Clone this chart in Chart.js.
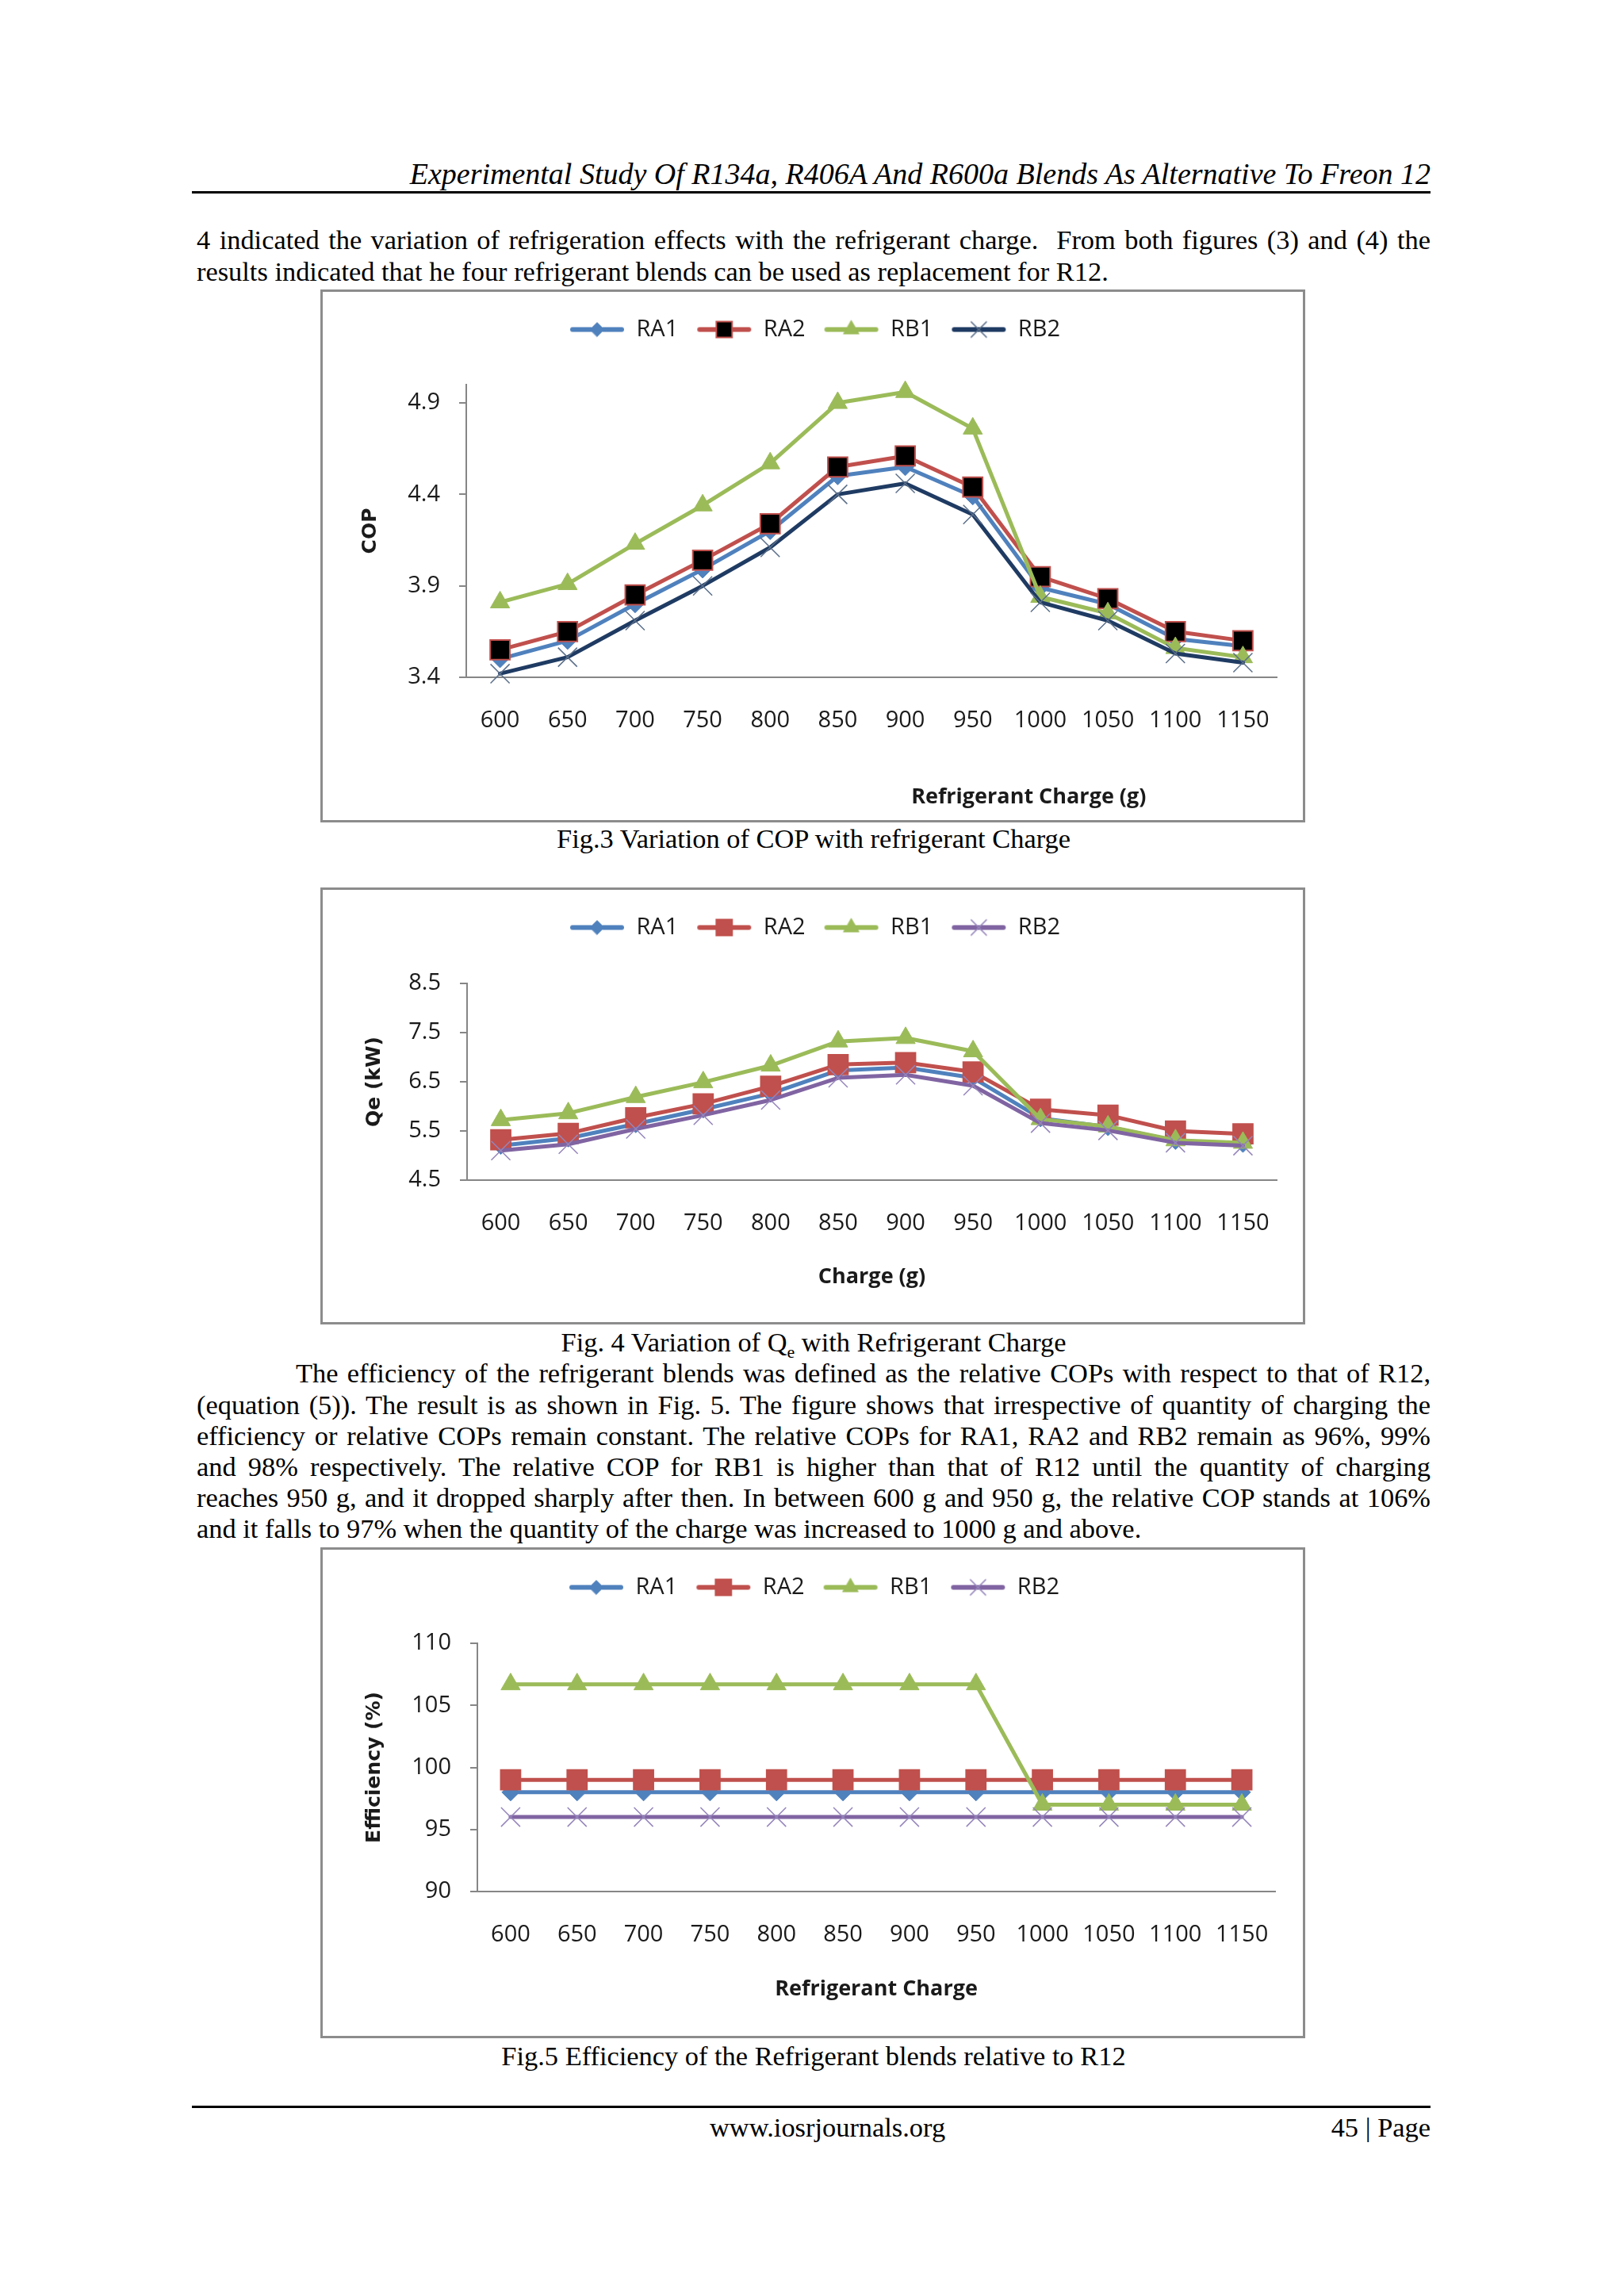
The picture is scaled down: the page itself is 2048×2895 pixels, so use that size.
<!DOCTYPE html>
<html>
<head>
<meta charset="utf-8">
<title>Experimental Study Of R134a, R406A And R600a Blends As Alternative To Freon 12</title>
<script src="https://cdn.jsdelivr.net/npm/chart.js@4.4.1/dist/chart.umd.min.js"></script>
<style>
  html, body { margin: 0; padding: 0; background: #fff; }
  .page { position: relative; width: 2048px; height: 2895px; overflow: hidden;
          font-family: "Liberation Serif", "Times New Roman", serif; color: #000; }
  .abs { position: absolute; }
  .header { right: 244px; top: 197px; font-size: 38px; font-style: italic; line-height: 44px; white-space: nowrap; }
  .rule { left: 242px; width: 1562px; height: 3px; background: #000; }
  .line { left: 248px; width: 1556px; font-size: 34.4px; line-height: 40px; text-align: justify; text-align-last: justify; }
  .line.last { text-align-last: left; }
  .line.indent { left: 373px; width: 1431px; }
  .caption { left: 248px; width: 1556px; text-align: center; font-size: 34.4px; line-height: 40px; }
  .footer { font-size: 34.4px; line-height: 40px; }
  .box { left: 404px; width: 1242px; border: 3px solid #8c8c8c; box-sizing: border-box; background: #fff; }
  .cv { position: absolute; left: 0; top: 0; right: 0; bottom: 0; }
</style>
</head>
<body>
<div class="page">
  <div class="abs header">Experimental Study Of R134a, R406A And R600a Blends As Alternative To Freon 12</div>
  <div class="abs rule" style="top:241px"></div>

  <div class="abs line" style="top:282px">4 indicated the variation of refrigeration effects with the refrigerant charge.&nbsp; From both figures (3) and (4) the</div>
  <div class="abs line last" style="top:322px">results indicated that he four refrigerant blends can be used as replacement for R12.</div>

  <div class="abs box" style="top:365px;height:672px"><div class="cv"><canvas id="copChart"></canvas></div></div>
  <div class="abs caption" style="top:1037px">Fig.3 Variation of COP with refrigerant Charge</div>

  <div class="abs box" style="top:1119px;height:551px"><div class="cv"><canvas id="qeChart"></canvas></div></div>
  <div class="abs caption" style="top:1672px">Fig. 4 Variation of Q<sub style="font-size:22px">e</sub> with Refrigerant Charge</div>

  <div class="abs line indent" style="top:1711px">The efficiency of the refrigerant blends was defined as the relative COPs with respect to that of R12,</div>
  <div class="abs line" style="top:1751px">(equation (5)). The result is as shown in Fig. 5. The figure shows that irrespective of quantity of charging the</div>
  <div class="abs line" style="top:1790px">efficiency or relative COPs remain constant. The relative COPs for RA1, RA2 and RB2 remain as 96%, 99%</div>
  <div class="abs line" style="top:1829px">and 98% respectively. The relative COP for RB1 is higher than that of R12 until the quantity of charging</div>
  <div class="abs line" style="top:1868px">reaches 950 g, and it dropped sharply after then. In between 600 g and 950 g, the relative COP stands at 106%</div>
  <div class="abs line last" style="top:1907px">and it falls to 97% when the quantity of the charge was increased to 1000 g and above.</div>

  <div class="abs box" style="top:1951px;height:619px"><div class="cv"><canvas id="effChart"></canvas></div></div>
  <div class="abs caption" style="top:2572px">Fig.5 Efficiency of the Refrigerant blends relative to R12</div>

  <div class="abs rule" style="top:2655px"></div>
  <div class="abs footer" style="top:2662px;left:895px">www.iosrjournals.org</div>
  <div class="abs footer" style="top:2662px;right:244px">45 | Page</div>
</div>

<script>
// refrigerant charge (g)
const charges = ['600', '650', '700', '750', '800', '850', '900', '950', '1000', '1050', '1100', '1150'];
const seriesNames = ['RA1', 'RA2', 'RB1', 'RB2'];

// Fig.3 COP
const copRA1 = [3.50, 3.60, 3.80, 3.99, 4.20, 4.50, 4.55, 4.39, 3.89, 3.80, 3.61, 3.57];
const copRA2 = [3.55, 3.65, 3.85, 4.04, 4.24, 4.55, 4.61, 4.44, 3.95, 3.83, 3.65, 3.60];
const copRB1 = [3.81, 3.91, 4.13, 4.34, 4.57, 4.90, 4.96, 4.76, 3.84, 3.75, 3.56, 3.51];
const copRB2 = [3.42, 3.51, 3.71, 3.90, 4.11, 4.40, 4.46, 4.29, 3.81, 3.71, 3.53, 3.48];
const copTicks = [3.4, 3.9, 4.4, 4.9];

// Fig.4 Qe (kW)
const qeRA1 = [5.20, 5.35, 5.64, 5.94, 6.26, 6.73, 6.79, 6.58, 5.76, 5.58, 5.30, 5.24];
const qeRA2 = [5.32, 5.45, 5.77, 6.05, 6.41, 6.85, 6.89, 6.70, 5.94, 5.82, 5.50, 5.44];
const qeRB1 = [5.72, 5.86, 6.19, 6.49, 6.83, 7.32, 7.39, 7.12, 5.74, 5.59, 5.31, 5.26];
const qeRB2 = [5.10, 5.23, 5.54, 5.82, 6.13, 6.58, 6.64, 6.42, 5.66, 5.51, 5.26, 5.20];
const qeTicks = [4.5, 5.5, 6.5, 7.5, 8.5];

// Fig.5 efficiency (%)
const effRA1 = [98, 98, 98, 98, 98, 98, 98, 98, 98, 98, 98, 98];
const effRA2 = [99, 99, 99, 99, 99, 99, 99, 99, 99, 99, 99, 99];
const effRB1 = [106.7, 106.7, 106.7, 106.7, 106.7, 106.7, 106.7, 106.7, 97, 97, 97, 97];
const effRB2 = [96, 96, 96, 96, 96, 96, 96, 96, 96, 96, 96, 96];
const effTicks = [90, 95, 100, 105, 110];

const BLUE = '#4F81BD', RED = '#C0504D', GREEN = '#9BBB59', PURPLE = '#8064A2', NAVY = '#1F3B63';
const TEXT = '#1a1a1a', AXIS = '#868686';

function seriesStyles(ra2Fill, rb2Line, rb2Cross) {
    return [
        { line: BLUE, shape: 'rectRot', r: 11, fill: BLUE, stroke: BLUE, bw: 1 },
        { line: RED, shape: 'rect', r: 17.5, fill: ra2Fill, stroke: RED, bw: 2 },
        { line: GREEN, shape: 'triangle', r: 14, fill: GREEN, stroke: GREEN, bw: 1 },
        { line: rb2Line, shape: 'crossRot', r: 17, fill: rb2Cross, stroke: rb2Cross, bw: 1.5 }
    ];
}

// line + marker swatch, like the Excel legend
function legendIcon(s) {
    const c = document.createElement('canvas');
    c.width = 70;
    c.height = 34;
    const ctx = c.getContext('2d');
    ctx.strokeStyle = s.line;
    ctx.lineWidth = 6;
    ctx.lineCap = 'round';
    ctx.beginPath();
    ctx.moveTo(4, 17);
    ctx.lineTo(66, 17);
    ctx.stroke();
    ctx.fillStyle = s.fill;
    ctx.strokeStyle = s.stroke;
    ctx.lineWidth = s.bw;
    Chart.helpers.drawPoint(ctx, { pointStyle: s.shape, radius: s.r * 0.8, borderWidth: s.bw, rotation: 0 }, 35, 17);
    return c;
}

// x axis caption, placed along the plot width
const axisCaption = {
    id: 'axisCaption',
    afterDraw(chart, args, opts) {
        const { ctx, chartArea } = chart;
        ctx.save();
        ctx.font = 'bold 27px "Open Sans"';
        ctx.fillStyle = TEXT;
        ctx.textAlign = 'center';
        ctx.textBaseline = 'middle';
        ctx.fillText(opts.text, chartArea.left + (chartArea.right - chartArea.left) * opts.at, chartArea.bottom + opts.dy);
        ctx.restore();
    }
};

// room between legend and plot, and a small sideways nudge of the legend row
const legendSpace = {
    id: 'legendSpace',
    beforeInit(chart, args, opts) {
        const legend = chart.legend;
        const fit = legend.fit;
        const draw = legend.draw;
        legend.fit = function () {
            fit.call(legend);
            legend.height = opts.height;
        };
        legend.draw = function () {
            legend.ctx.save();
            legend.ctx.translate(opts.dx, 0);
            draw.call(legend);
            legend.ctx.restore();
        };
    }
};

function makeChart(id, o) {
    const styles = o.styles;
    const datasets = o.series.map(function (vals, i) {
        return {
            label: seriesNames[i],
            data: vals,
            borderColor: styles[i].line,
            backgroundColor: styles[i].fill,
            borderWidth: 5,
            borderJoinStyle: 'round',
            borderCapStyle: 'round',
            tension: 0,
            pointStyle: styles[i].shape,
            pointRadius: styles[i].r,
            pointHoverRadius: styles[i].r,
            pointBackgroundColor: styles[i].fill,
            pointBorderColor: styles[i].stroke,
            pointBorderWidth: styles[i].bw,
            clip: false,
            order: 4 - i
        };
    });

    return new Chart(document.getElementById(id), {
        type: 'line',
        data: { labels: charges, datasets: datasets },
        options: {
            animation: false,
            responsive: true,
            maintainAspectRatio: false,
            devicePixelRatio: 1,
            layout: { padding: { top: 10, right: o.right, bottom: 0, left: 0 } },
            plugins: {
                legend: {
                    position: 'top',
                    labels: {
                        usePointStyle: true,
                        pointStyleWidth: 70,
                        padding: 23,
                        color: TEXT,
                        font: { family: 'Open Sans', size: 29 },
                        generateLabels: function () {
                            return seriesNames.map(function (name, i) {
                                return { text: name, pointStyle: legendIcon(styles[i]), datasetIndex: i, hidden: false, lineWidth: 0, fontColor: TEXT };
                            });
                        }
                    }
                },
                legendSpace: { height: o.plotTop - 10, dx: 19 },
                tooltip: { enabled: false },
                axisCaption: { text: o.xTitle, at: o.xTitleAt, dy: o.xTitleDy }
            },
            scales: {
                x: {
                    offset: true,
                    grid: { display: true, drawOnChartArea: false, drawTicks: false },
                    border: { color: AXIS, width: 2 },
                    ticks: { padding: 37, color: TEXT, font: { family: 'Open Sans', size: 29 }, maxRotation: 0, autoSkip: false },
                    afterFit: function (s) { s.height = o.xHeight; }
                },
                y: {
                    min: o.min,
                    max: o.max,
                    afterBuildTicks: function (ax) { ax.ticks = o.ticks.map(function (v) { return { value: v }; }); },
                    ticks: { padding: 24, color: TEXT, font: { family: 'Open Sans', size: 29 }, callback: o.fmt },
                    grid: { drawOnChartArea: false, drawTicks: true, tickLength: 9, color: AXIS, lineWidth: 2 },
                    border: { color: AXIS, width: 2 },
                    title: {
                        display: true,
                        text: o.yTitle,
                        color: TEXT,
                        font: { family: 'DejaVu Sans', size: 25, weight: 'bold' },
                        padding: { top: o.yTitlePad, bottom: 0 }
                    },
                    afterFit: function (s) { s.width = o.yWidth; }
                }
            }
        },
        plugins: [axisCaption, legendSpace]
    });
}

makeChart('copChart', {
    series: [copRA1, copRA2, copRB1, copRB2],
    styles: seriesStyles('#000000', NAVY, '#5b6f8a'),
    ticks: copTicks, min: 3.4, max: 5.0,
    fmt: function (v) { return v.toFixed(1); },
    yTitle: 'COP', yTitlePad: 45, yWidth: 181, plotTop: 117, right: 33, xHeight: 180,
    xTitle: 'Refrigerant Charge (g)', xTitleAt: 0.694, xTitleDy: 151
});

makeChart('qeChart', {
    series: [qeRA1, qeRA2, qeRB1, qeRB2],
    styles: seriesStyles(RED, PURPLE, '#9585bb'),
    ticks: qeTicks, min: 4.5, max: 8.5,
    fmt: function (v) { return v.toFixed(1); },
    yTitle: 'Qe (kW)', yTitlePad: 50, yWidth: 182, plotTop: 118, right: 33, xHeight: 179,
    xTitle: 'Charge (g)', xTitleAt: 0.5, xTitleDy: 122
});

makeChart('effChart', {
    series: [effRA1, effRA2, effRB1, effRB2],
    styles: seriesStyles(RED, PURPLE, '#9585bb'),
    ticks: effTicks, min: 90, max: 110,
    fmt: function (v) { return String(v); },
    yTitle: 'Efficiency (%)', yTitlePad: 50, yWidth: 195, plotTop: 118, right: 35, xHeight: 182,
    xTitle: 'Refrigerant Charge', xTitleAt: 0.5, xTitleDy: 123
});
</script>
</body>
</html>
